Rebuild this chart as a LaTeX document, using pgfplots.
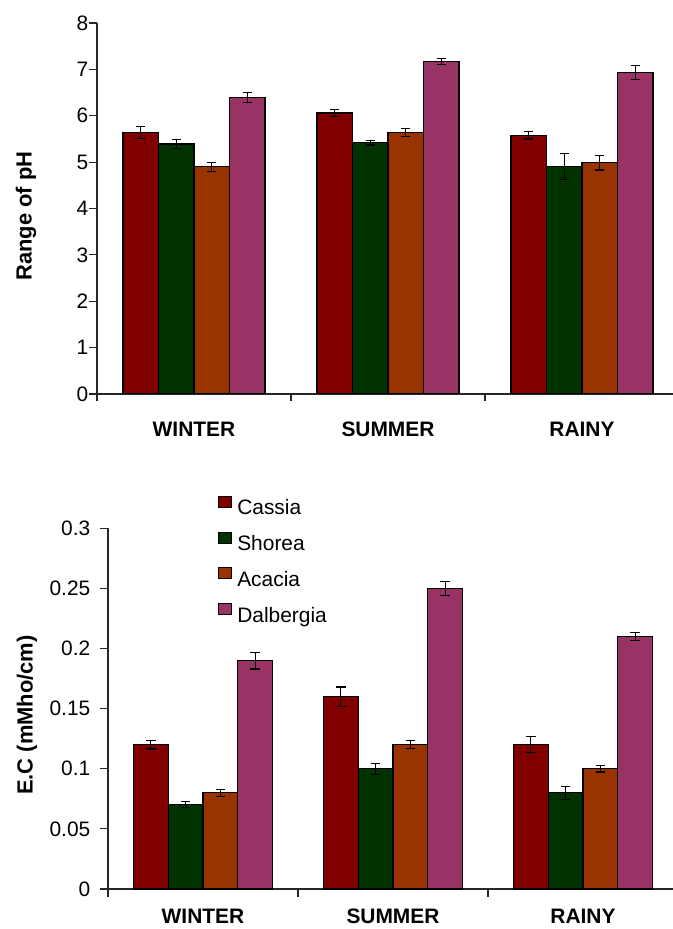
\documentclass[border=0pt]{standalone}
\usepackage{pgfplots}
\pgfplotsset{compat=1.18}
\usepackage{fontspec}
\setmainfont{Liberation Sans}
\definecolor{cassia}{HTML}{800000}
\definecolor{shorea}{HTML}{003300}
\definecolor{acacia}{HTML}{993300}
\definecolor{dalb}{HTML}{993366}
\pgfplotsset{
  mybars/.style={
    scale only axis,
    anchor=south west,
    axis lines=left,
    axis line style={-, line width=1.2bp, black!85},
    enlargelimits=false,
    xmin=-0.5, xmax=2.5,
    xtick={0,1,2},
    xticklabels={WINTER,SUMMER,RAINY},
    minor xtick={-0.5,0.5,1.5,2.5},
    major x tick style={draw=none},
    minor x tick style={line width=1.2bp, black!85},
    y tick style={line width=1.2bp, black!85},
    tick align=outside,
    major tick length=7.5bp,
    minor tick length=7.5bp,
    ybar,
    bar width=0.183,
    /pgf/number format/assume math mode=true,
    tick label style={font=\fontsize{21}{25}\selectfont, black},
    xticklabel style={font=\fontsize{21}{25}\selectfont\bfseries, anchor=base, inner sep=0pt},
    yticklabel style={anchor=east, inner sep=0pt},
    ylabel style={font=\fontsize{22}{26}\selectfont\bfseries, anchor=center},
    error bars/y dir=both,
    error bars/y explicit,
    error bars/error bar style={line width=1.2bp, black},
    error bars/error mark options={rotate=90, black, line width=1.2bp, mark size=4.7bp},
    every axis plot/.append style={draw=black, line width=1.1bp},
  }
}
\begin{document}
\begin{tikzpicture}
\useasboundingbox (0,0) rectangle (673bp,929bp);
% ---------- top: pH ----------
\begin{axis}[mybars,
  at={(97bp,535bp)}, width=582bp, height=371bp,
  ymin=0, ymax=8, ytick={0,1,...,8},
  xticklabel style={yshift=-35.2bp},
  yticklabel style={xshift=-1bp},
  ylabel={Range of pH},
  ylabel style={at={(axis description cs:-0.122,0.48)}},
]
\addplot[fill=cassia, bar shift=-0.2745] coordinates {(0,5.64) +- (0,0.13) (1,6.06) +- (0,0.08) (2,5.58) +- (0,0.08)};
\addplot[fill=shorea, bar shift=-0.0915] coordinates {(0,5.39) +- (0,0.09) (1,5.42) +- (0,0.05) (2,4.90) +- (0,0.28)};
\addplot[fill=acacia, bar shift=0.0915] coordinates {(0,4.90) +- (0,0.10) (1,5.64) +- (0,0.08) (2,4.99) +- (0,0.16)};
\addplot[fill=dalb, bar shift=0.2745] coordinates {(0,6.39) +- (0,0.11) (1,7.17) +- (0,0.06) (2,6.94) +- (0,0.15)};
\end{axis}
% ---------- bottom: EC ----------
\begin{axis}[mybars,
  at={(108bp,40bp)}, width=570bp, height=360.7bp,
  ymin=0, ymax=0.3, ytick={0,0.05,0.1,0.15,0.2,0.25,0.3},
  scaled y ticks=false,
  yticklabel style={/pgf/number format/fixed, /pgf/number format/precision=2, xshift=-10bp},
  xticklabel style={yshift=-26.5bp},
  ylabel={E.C (mMho/cm)},
  ylabel style={at={(axis description cs:-0.142,0.482)}},
  legend style={at={(axis description cs:0.1935,1.09)}, anchor=north west,
    draw=none, fill=none, inner sep=0pt, outer sep=0pt,
    font=\fontsize{21}{25}\selectfont,
    row sep=11.8bp, column sep=5bp,
    nodes={inner sep=0pt, text height=16bp, text depth=5bp}},
  legend cell align=left,
  legend image code/.code={\draw[#1, draw=black, line width=1bp] (0bp,2bp) rectangle (13bp,13bp);},
]
\addplot[fill=cassia, bar shift=-0.2745] coordinates {(0,0.12) +- (0,0.0035) (1,0.16) +- (0,0.008) (2,0.12) +- (0,0.0067)};
\addplot[fill=shorea, bar shift=-0.0915] coordinates {(0,0.07) +- (0,0.0025) (1,0.10) +- (0,0.0045) (2,0.08) +- (0,0.0053)};
\addplot[fill=acacia, bar shift=0.0915] coordinates {(0,0.08) +- (0,0.003) (1,0.12) +- (0,0.0033) (2,0.10) +- (0,0.0027)};
\addplot[fill=dalb, bar shift=0.2745] coordinates {(0,0.19) +- (0,0.007) (1,0.25) +- (0,0.006) (2,0.21) +- (0,0.0033)};
\legend{Cassia,Shorea,Acacia,Dalbergia}
\end{axis}
\end{tikzpicture}
\end{document}
